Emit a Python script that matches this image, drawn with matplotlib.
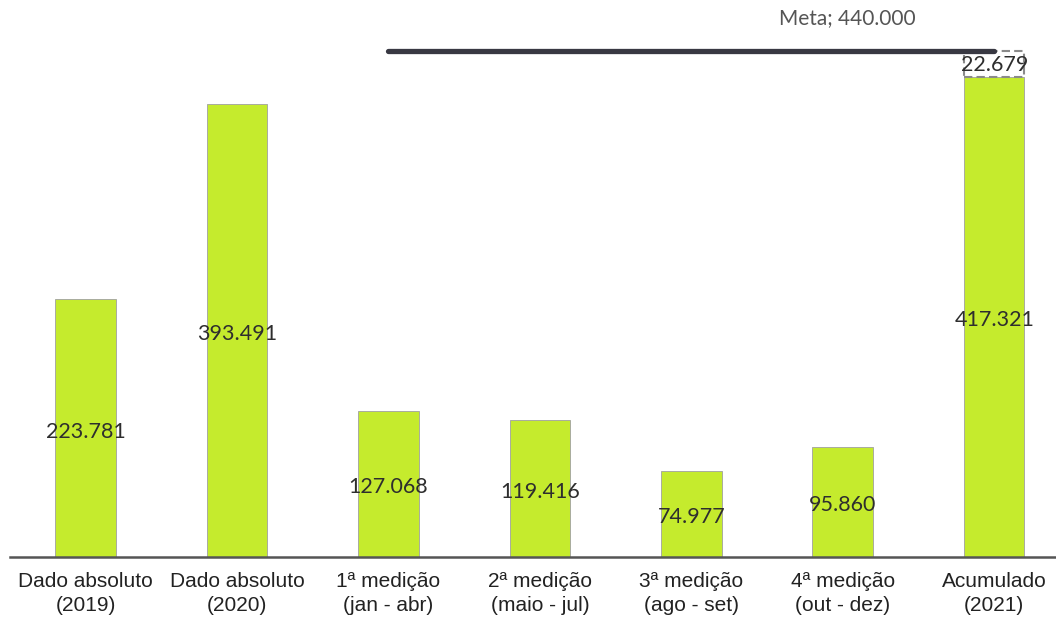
import matplotlib

matplotlib.use("Agg")
import matplotlib.pyplot as plt
import numpy as np

categories = [
    "Dado absoluto\n(2019)",
    "Dado absoluto\n(2020)",
    "1ª medição\n(jan - abr)",
    "2ª medição\n(maio - jul)",
    "3ª medição\n(ago - set)",
    "4ª medição\n(out - dez)",
    "Acumulado\n(2021)",
]
values = [223781, 393491, 127068, 119416, 74977, 95860, 417321]
value_labels = ["223.781", "393.491", "127.068", "119.416", "74.977", "95.860", "417.321"]
meta = 440000
meta_label = "Meta; 440.000"
gap = meta - values[-1]
gap_label = "22.679"

bar_color = "#c5eb2d"
num_font = ["Lato", "DejaVu Sans"]

figure = plt.figure(figsize=(10.56, 6.18), dpi=100)
axis = figure.add_axes([9.75 / 1056, 61 / 618, 1 - 9.75 / 1056, 557 / 618])
x = np.arange(len(values))
width = 0.4

axis.bar(x, values, width=width, color=bar_color, edgecolor="#a0a0a0", linewidth=0.6, zorder=2)
axis.bar(x[-1], gap, bottom=values[-1], width=width, color="white",
         edgecolor="#8a8a8a", linewidth=1.5, linestyle=(0, (4, 2)), zorder=2)

for xi, v, lab in zip(x, values, value_labels):
    axis.text(xi, v / 2 - 3000, lab, ha="center", va="center", fontsize=15.5,
              color="#2e2e2e", family=num_font, zorder=4)
axis.text(x[-1], values[-1] + gap / 2 - 1500, gap_label, ha="center", va="center",
          fontsize=15.5, color="#2e2e2e", family=num_font, zorder=4)

axis.plot([x[2], x[-1]], [meta, meta], color="#383842", linewidth=3.8,
          solid_capstyle="round", zorder=3)
axis.text(5.03, meta + 28000, meta_label, ha="center", va="center", fontsize=15,
          color="#555555", family=num_font)

axis.set_xlim(-0.5, 6.408)
axis.set_ylim(0, 484000)
axis.set_xticks(x)
axis.set_xticklabels(categories, fontsize=15, color="#222222", family=["Liberation Sans", "DejaVu Sans"],
                     linespacing=1.3)
axis.tick_params(axis="x", length=0, pad=11)
axis.set_yticks([])
for side in ["top", "right", "left"]:
    axis.spines[side].set_visible(False)
axis.spines["bottom"].set_color("#555555")
axis.spines["bottom"].set_linewidth(1.8)

figure.savefig("out.png", dpi=100)
plt.close(figure)
